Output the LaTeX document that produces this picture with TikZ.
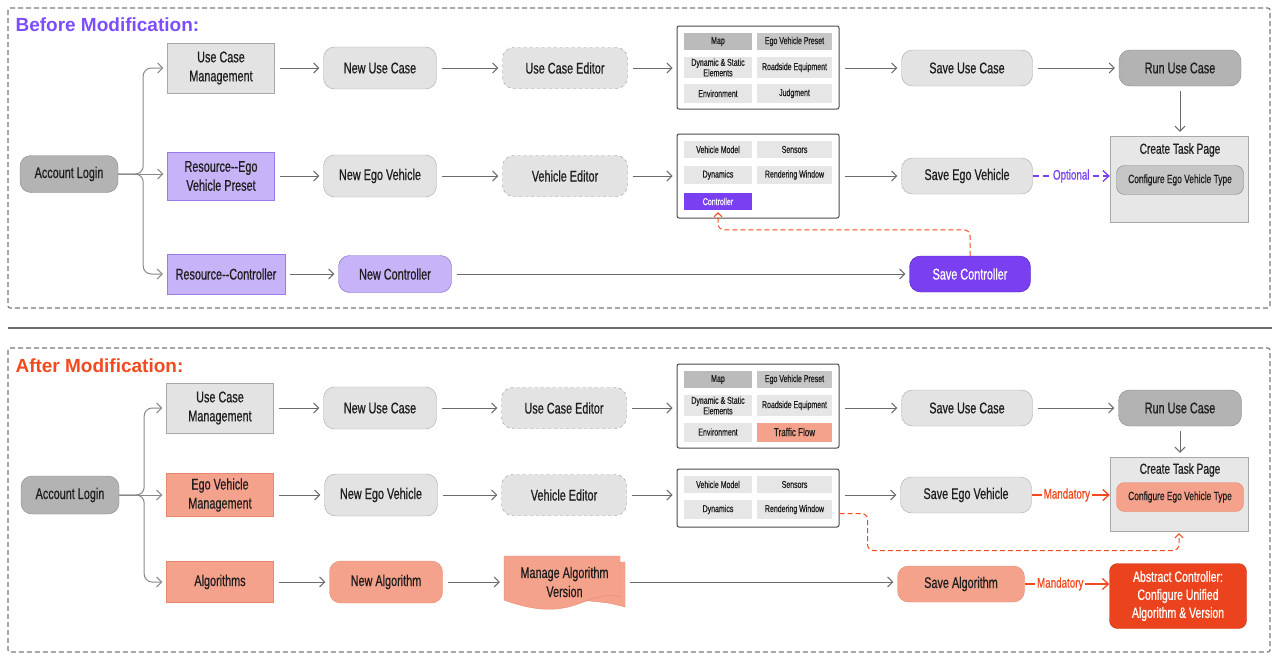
\documentclass[tikz,border=0pt]{standalone}
\usepackage{fontspec}
\setmainfont[FakeStretch=0.7,FakeBold=0.6]{Liberation Sans}
\newfontfamily\titlefont{Liberation Sans}
\usepackage{xcolor}
\definecolor{linegray}{HTML}{6B6B6B}
\definecolor{boxgray}{HTML}{E3E3E3}
\definecolor{boxgrayedge}{HTML}{A8A8A8}
\definecolor{darkgray}{HTML}{B3B3B3}
\definecolor{darkgrayedge}{HTML}{858585}
\definecolor{cellgray}{HTML}{E6E6E6}
\definecolor{cellmid}{HTML}{C6C6C6}
\definecolor{cellmap}{HTML}{BBBBBB}
\definecolor{lilac}{HTML}{C7B3F7}
\definecolor{lilacedge}{HTML}{9B7BEA}
\definecolor{violet}{HTML}{7A3FF0}
\definecolor{violetdark}{HTML}{4B22B5}
\definecolor{salmon}{HTML}{F5A28C}
\definecolor{salmonedge}{HTML}{E8876D}
\definecolor{alertred}{HTML}{EA431D}
\definecolor{titlered}{HTML}{F24A1F}
\definecolor{titleviolet}{HTML}{7C4DFF}
\definecolor{ink}{HTML}{1E1E1E}
\usetikzlibrary{positioning,arrows.meta,calc}

\begin{document}
\begin{tikzpicture}[
      x=1pt, y=-1pt, text=ink,
      font=\fontsize{15.5}{19}\selectfont,
      panel/.style={draw=linegray!90, line width=1.1pt, dash pattern=on 5pt off 3pt, rounded corners=2pt},
      title/.style={anchor=west, font=\titlefont\bfseries\fontsize{19}{21}\selectfont},
      flow/.style={draw=linegray, line width=1pt, -{Straight Barb[length=5pt,width=10pt]},
                   shorten >=4pt, shorten <=5pt},
      branch/.style={draw=linegray!80, line width=1pt, rounded corners=8pt,
                     -{Straight Barb[length=5pt,width=10pt]}, shorten >=4pt},
      box/.style={rectangle, draw=boxgrayedge, fill=boxgray, align=center,
                  minimum width=107, minimum height=50, inner sep=1pt},
      pill/.style={rectangle, rounded corners=11pt, draw=boxgrayedge, fill=boxgray,
                   align=center, minimum width=113, minimum height=42, inner sep=1pt},
      editor/.style={pill, dashed, draw=linegray!70, minimum width=125, minimum height=41},
      grid/.style={rectangle, draw=ink!80, line width=1pt, rounded corners=2pt,
                   fill=white, minimum width=162},
      cell/.style={rectangle, fill=cellgray, align=center, inner sep=0pt,
                   font=\fontsize{10}{10.5}\selectfont},
      cellL/.style={cell, minimum width=68},
      cellR/.style={cell, minimum width=75},
      taskpage/.style={rectangle, draw=boxgrayedge, fill=boxgray!85, minimum width=138},
      config/.style={pill, rounded corners=8pt, minimum width=127, minimum height=29,
                     font=\fontsize{12}{14}\selectfont},
      optflow/.style={draw=violet, line width=1.3pt, dash pattern=on 6pt off 4pt,
                      -{Straight Barb[length=6pt,width=11pt]}},
      mandflow/.style={draw=titlered, line width=1.3pt,
                       -{Straight Barb[length=6pt,width=11pt]}},
      dashred/.style={draw=titlered, line width=1pt, dash pattern=on 5pt off 3pt,
                      rounded corners=6pt, -{Straight Barb[length=4pt,width=8pt]}, shorten >=2pt},
      tag/.style={fill=white, inner sep=2pt, font=\fontsize{14}{16}\selectfont},
    ]
    \useasboundingbox (0,0) rectangle (1280,672);
    \draw[panel] (8,8) rectangle (1270,308);
    \draw[panel] (8,348) rectangle (1270,652);
    \draw[linegray, line width=1.2pt] (8,328) -- (1272,328);
    \node[title, text=titleviolet] (before) at (12,25) {Before Modification:};
    \node[title, text=titlered] (after) at (12,366) {After Modification:};

    \node[pill, fill=darkgray, draw=darkgrayedge, minimum width=98, minimum height=37] (login1) at (69,174) {Account Login};
    \node[box] (ucm1) at (221,68) {Use Case\\Management};
    \node[box, fill=lilac, draw=lilacedge, minimum height=48] (res1) at (221,176) {Resource{-}{-}Ego\\Vehicle Preset};
    \node[box, fill=lilac, draw=lilacedge, minimum width=118, minimum height=40] (rc1) at (226,274) {Resource{-}{-}Controller};
    \node[pill] (nuc1) at (380,68) {New Use Case};
    \node[pill] (nev1) at (380,176) {New Ego Vehicle};
    \node[pill, fill=lilac, draw=violetdark!70, minimum height=37] (nc1) at (395,274) {New Controller};
    \node[editor] (uce1) at (565,68) {Use Case Editor};
    \node[editor] (ve1) at (565,176) {Vehicle Editor};
    \node[grid, minimum height=83] (ucg1) at (758,67.5) {};
    \node[cellL, fill=cellmap, minimum height=17] (map1) at (718,41.5) {Map};
    \node[cellR, fill=cellmid, minimum height=17] (evp1) at (794.5,41.5) {Ego Vehicle Preset};
    \node[cellL, minimum height=21] (dse1) at (718,67.5) {Dynamic \& Static\\Elements};
    \node[cellR, minimum height=21] (rse1) at (794.5,67.5) {Roadside Equipment};
    \node[cellL, minimum height=19] (env1) at (718,93.5) {Environment};
    \node[cellR, minimum height=19] (jdg1) at (794.5,93.5) {Judgment};
    \node[grid, minimum height=84] (vg1) at (758,176) {};
    \node[cellL, minimum height=17] (vm1) at (718,149.5) {Vehicle Model};
    \node[cellR, minimum height=17] (sen1) at (794.5,149.5) {Sensors};
    \node[cellL, minimum height=18] (dyn1) at (718,175) {Dynamics};
    \node[cellR, minimum height=18] (rw1) at (794.5,175) {Rendering Window};
    \node[cellL, fill=violet, text=white, minimum height=17] (ctrl1) at (718,201.5) {Controller};
    \node[pill, minimum width=131, minimum height=36] (suc1) at (967,68) {Save Use Case};
    \node[pill, minimum width=131, minimum height=36] (sev1) at (967,176) {Save Ego Vehicle};
    \node[pill, fill=violet, draw=violetdark, text=white, minimum width=121, minimum height=36] (sc1) at (970,274) {Save Controller};
    \node[pill, fill=darkgray, draw=darkgrayedge, minimum width=122, minimum height=36] (run1) at (1180,68) {Run Use Case};
    \node[taskpage, minimum height=86] (ctp1) at (1179,179) {};
    \node[font=\fontsize{14.5}{16}\selectfont] (ctpt1) at (1180,150) {Create Task Page};
    \node[config, fill=cellmid, draw=darkgrayedge] (cev1) at (1180,180) {Configure Ego Vehicle Type};

    \draw[branch] (login1.east) -- ++(25,0) |- (ucm1.west);
    \draw[branch] (login1.east) -- (login1.east -| res1.west);
    \draw[branch] (login1.east) -- ++(25,0) |- (rc1.west);
    \draw[flow] (ucm1) -- (nuc1);
    \draw[flow] (nuc1) -- (uce1);
    \draw[flow] (uce1) -- (uce1 -| ucg1.west);
    \draw[flow] (ucg1.east |- suc1) -- (suc1);
    \draw[flow] (suc1) -- (run1);
    \draw[flow] (run1) -- (run1 |- ctp1.north);
    \draw[flow] (res1) -- (nev1);
    \draw[flow] (nev1) -- (ve1);
    \draw[flow] (ve1) -- (vg1);
    \draw[flow] (vg1) -- (sev1);
    \draw[flow] (rc1) -- (nc1);
    \draw[flow] (nc1) -- (sc1);
    \draw[optflow] (sev1.east) -- (sev1.east -| ctp1.west)
      node[tag, midway, text=violet] {Optional};
    \draw[dashred] (sc1.north) -- ++(0,-26) -| (ctrl1.south);

    \node[pill, fill=darkgray, draw=darkgrayedge, minimum width=98, minimum height=38] (login2) at (70,495) {Account Login};
    \node[box] (ucm2) at (220,408) {Use Case\\Management};
    \node[box, fill=salmon, draw=salmonedge, minimum height=43] (evm2) at (220,495) {Ego Vehicle\\Management};
    \node[box, fill=salmon, draw=salmonedge, minimum height=41] (alg2) at (220,582) {Algorithms};
    \node[pill] (nuc2) at (380,408) {New Use Case};
    \node[pill] (nev2) at (381,495) {New Ego Vehicle};
    \node[pill, fill=salmon, draw=salmonedge] (nalg2) at (386,582) {New Algorithm};
    \draw[fill=salmon, draw=salmonedge] (511,562) -- (625,562) -- (625,607)
      .. controls (610,603) .. (590,601) -- (511,598) -- cycle;
    \draw[fill=salmon, draw=salmonedge] (504,556) -- (620,556) -- (620,597)
      .. controls (585,588) and (575,626) .. (504,600) -- cycle;
    \node[minimum width=121, minimum height=52, align=center] (mav2) at (564.5,582) {Manage Algorithm\\Version};
    \node[editor] (uce2) at (564,408) {Use Case Editor};
    \node[editor] (ve2) at (564,495) {Vehicle Editor};
    \node[grid, minimum height=84] (ucg2) at (758,406) {};
    \node[cellL, fill=cellmap, minimum height=17] (map2) at (718,379.5) {Map};
    \node[cellR, fill=cellmid, minimum height=17] (evp2) at (794.5,379.5) {Ego Vehicle Preset};
    \node[cellL, minimum height=21] (dse2) at (718,405.5) {Dynamic \& Static\\Elements};
    \node[cellR, minimum height=21] (rse2) at (794.5,405.5) {Roadside Equipment};
    \node[cellL, minimum height=19] (env2) at (718,432) {Environment};
    \node[cellR, fill=salmon, minimum height=19, font=\fontsize{11.5}{12}\selectfont] (tf2) at (794.5,432) {Traffic Flow};
    \node[grid, minimum height=58] (vg2) at (758,498) {};
    \node[cellL, minimum height=17] (vm2) at (718,484.5) {Vehicle Model};
    \node[cellR, minimum height=17] (sen2) at (794.5,484.5) {Sensors};
    \node[cellL, minimum height=19] (dyn2) at (718,509.5) {Dynamics};
    \node[cellR, minimum height=19] (rw2) at (794.5,509.5) {Rendering Window};
    \node[pill, minimum width=131, minimum height=36] (suc2) at (967,408) {Save Use Case};
    \node[pill, minimum width=131, minimum height=36] (sev2) at (966,495) {Save Ego Vehicle};
    \node[pill, fill=salmon, draw=salmonedge, minimum width=127, minimum height=36] (salg2) at (961,584) {Save Algorithm};
    \node[pill, fill=darkgray, draw=darkgrayedge, minimum width=123, minimum height=36] (run2) at (1180,408) {Run Use Case};
    \node[taskpage, minimum height=74] (ctp2) at (1179,494) {};
    \node[font=\fontsize{14.5}{16}\selectfont] (ctpt2) at (1180,470) {Create Task Page};
    \node[config, fill=salmon, draw=salmonedge] (cev2) at (1180,497) {Configure Ego Vehicle Type};
    \node[rectangle, rounded corners=8pt, fill=alertred, draw=alertred!85!black, text=white,
          align=center, minimum width=137, minimum height=65, font=\fontsize{15}{18}\selectfont] (absc2) at (1178,596)
      {Abstract Controller:\\Configure Unified\\Algorithm \& Version};

    \draw[branch] (login2.east) -- ++(25,0) |- (ucm2.west);
    \draw[branch] (login2.east) -- (evm2.west);
    \draw[branch] (login2.east) -- ++(25,0) |- (alg2.west);
    \draw[flow] (ucm2) -- (nuc2);
    \draw[flow] (nuc2) -- (uce2);
    \draw[flow] (uce2) -- (uce2 -| ucg2.west);
    \draw[flow] (ucg2.east |- suc2) -- (suc2);
    \draw[flow] (suc2) -- (run2);
    \draw[flow] (run2) -- (run2 |- ctp2.north);
    \draw[flow] (evm2) -- (nev2);
    \draw[flow] (nev2) -- (ve2);
    \draw[flow] (ve2) -- (ve2 -| vg2.west);
    \draw[flow] (vg2.east |- sev2) -- (sev2);
    \draw[flow] (alg2) -- (nalg2);
    \draw[flow] (nalg2) -- (mav2);
    \draw[flow] (mav2) -- (mav2 -| salg2.west);
    \draw[mandflow] (sev2.east) -- (sev2.east -| ctp2.west)
      node[tag, pos=0.45, text=titlered] {Mandatory};
    \draw[mandflow] (salg2.east) -- (salg2.east -| absc2.west)
      node[tag, pos=0.42, text=titlered] {Mandatory};
    \draw[dashred] ($(vg2.south east)+(0,-14)$) -- ++(28,0) -- ++(0,37) -| (ctp2.south);
  \end{tikzpicture}
\end{document}
